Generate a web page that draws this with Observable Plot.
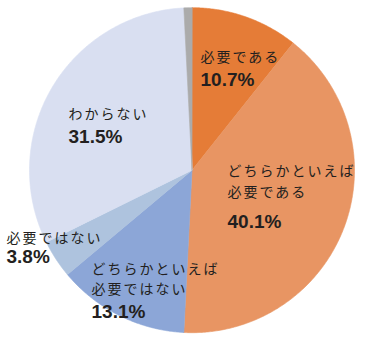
<!DOCTYPE html>
<html>
<head>
<meta charset="utf-8">
<script src="https://cdn.jsdelivr.net/npm/d3@7"></script>
<script src="https://cdn.jsdelivr.net/npm/@observablehq/plot@0.6"></script>
<style>
  html, body { margin: 0; padding: 0; background: #fff; }
  #chart svg { display: block; }
  #chart g[font-weight="normal"] text { letter-spacing: 2px; }
</style>
</head>
<body>
<div id="chart"></div>
<script>
// ---- data ----
const categories = ["必要である", "どちらかといえば必要である", "どちらかといえば必要ではない", "必要ではない", "わからない", "無回答"];
const values = [10.7, 40.1, 13.1, 3.8, 31.5, 0.8];
const labelNames = ["必要である", "どちらかといえば\n必要である", "どちらかといえば\n必要ではない", "必要ではない", "わからない", null];
const labelPcts = ["10.7%", "40.1%", "13.1%", "3.8%", "31.5%", null];
const colors = ["#E57C37", "#E89563", "#8CA6D7", "#AEC3DE", "#D9DFF1", "#ABABAB"];

// ---- layout ----
const W = 366, H = 341;
const cx = 191.5, cy = 169.7, R = 162.5;
// label layout: [left x, name center y, percent center y]
const labelLayout = [
  [200, 55, 79],
  [227, 179.5, 221],
  [91, 277, 311],
  [6, 236, 256],
  [68, 112, 136],
  null
];

const arcs = d3.pie().sort(null).startAngle(0).endAngle(2 * Math.PI)(values);

function slicePoints(a, i) {
  const pts = [{x: cx, y: cy, k: i}];
  const n = Math.max(4, Math.ceil((a.endAngle - a.startAngle) / (Math.PI / 360)));
  for (let j = 0; j <= n; j++) {
    const t = a.startAngle + (a.endAngle - a.startAngle) * j / n;
    pts.push({x: cx + R * Math.sin(t), y: cy - R * Math.cos(t), k: i});
  }
  return pts;
}

const sliceMarks = arcs.map((a, i) =>
  Plot.line(slicePoints(a, i), {
    x: "x", y: "y", curve: "linear-closed",
    fill: colors[i], stroke: colors[i], strokeWidth: 0.6
  })
);

const nameData = [], pctData = [];
categories.forEach((c, i) => {
  const L = labelLayout[i];
  if (!L) return;
  nameData.push({x: L[0], y: L[1], t: labelNames[i]});
  pctData.push({x: L[0], y: L[2], t: labelPcts[i]});
});

const chart = Plot.plot({
  width: W, height: H,
  margin: 0,
  x: {domain: [0, W], range: [0, W], axis: null},
  y: {domain: [0, H], range: [0, H], axis: null},
  style: {background: "#fff"},
  marks: [
    ...sliceMarks,
    Plot.text(nameData, {
      x: "x", y: "y", text: "t", textAnchor: "start", lineAnchor: "middle",
      lineHeight: 1.47, fontSize: 14, fontWeight: "normal",
      fontFamily: "'Noto Sans CJK JP', sans-serif", fill: "#231F20"
    }),
    Plot.text(pctData, {
      x: "x", y: "y", text: "t", textAnchor: "start", lineAnchor: "middle",
      fontSize: 19, fontWeight: "bold",
      fontFamily: "'Liberation Sans', Arial, sans-serif", fill: "#231F20"
    })
  ]
});
document.getElementById("chart").appendChild(chart);
</script>
</body>
</html>
